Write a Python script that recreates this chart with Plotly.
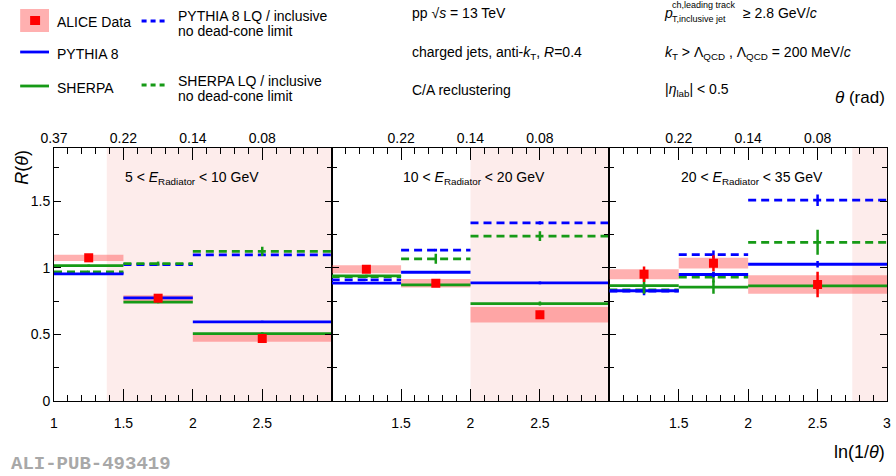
import plotly.graph_objects as go

# ---------------- data ----------------
bin_edges = [1.0, 1.5, 2.0, 3.0]           # ln(1/theta) bins
bin_centers = [1.25, 1.75, 2.5]
panel_titles = ["5 &lt; <i>E</i><sub>Radiator</sub> &lt; 10 GeV",
                "10 &lt; <i>E</i><sub>Radiator</sub> &lt; 20 GeV",
                "20 &lt; <i>E</i><sub>Radiator</sub> &lt; 35 GeV"]

data_val = [[1.075, 0.772, 0.470], [0.990, 0.885, 0.647], [0.952, 1.035, 0.875]]
data_stat = [[0.015, 0.020, 0.025], [0.020, 0.020, 0.030], [0.058, 0.060, 0.095]]
data_sys = [[0.023, 0.022, 0.025], [0.030, 0.032, 0.058], [0.038, 0.040, 0.070]]

pythia = [[0.955, 0.774, 0.594], [0.885, 0.967, 0.887], [0.828, 0.950, 1.027]]
pythia_err = [[0.005, 0.005, 0.008], [0.005, 0.008, 0.010], [0.015, 0.020, 0.025]]
sherpa = [[1.017, 0.742, 0.506], [0.940, 0.872, 0.732], [0.867, 0.855, 0.865]]
sherpa_err = [[0.008, 0.008, 0.010], [0.008, 0.010, 0.015], [0.056, 0.050, 0.030]]
pythia_lq = [[0.960, 1.025, 1.098], [0.910, 1.133, 1.338], [0.825, 1.100, 1.508]]
pythia_lq_err = [[0.005, 0.008, 0.010], [0.008, 0.010, 0.012], [0.030, 0.030, 0.043]]
sherpa_lq = [[0.970, 1.032, 1.123], [0.935, 1.068, 1.238], [0.835, 0.930, 1.192]]
sherpa_lq_err = [[0.010, 0.015, 0.035], [0.012, 0.037, 0.037], [0.030, 0.040, 0.094]]

shade_start = [1.38, 2.0, 2.75]            # shaded (excluded) region start per panel
shade_end = 3.0

x_ticks = [1, 1.5, 2, 2.5, 3]
bottom_labels = [["1", "1.5", "2", "2.5", ""],
                 ["", "1.5", "2", "2.5", ""],
                 ["", "1.5", "2", "2.5", "3"]]
top_labels = [["0.37", "0.22", "0.14", "0.08", ""],
              ["", "0.22", "0.14", "0.08", ""],
              ["", "0.22", "0.14", "0.08", "0.05"]]
y_ticks = [0, 0.5, 1, 1.5]
y_labels = ["0", "0.5", "1", "1.5"]

# ---------------- style ----------------
FONT = "Liberation Sans, Arial, Helvetica, sans-serif"
RED = "#ff0000"
BAND = "rgba(255,80,80,0.45)"
BAND_LEG = "#ffb0b0"
SHADE = "#fdeceb"
BLUE = "#0000ff"
GREEN = "#169a16"
DASH = "8px,5px"
LW = 2.8

W, H = 896, 476
L, R, T, B = 54, 5, 148, 75


def px(x):
    return (x - L) / (W - L - R)


def py(y):
    return (H - B - y) / (H - T - B)


def steps(vals):
    xs, ys = [], []
    for k, v in enumerate(vals):
        xs += [bin_edges[k], bin_edges[k + 1], None]
        ys += [v, v, None]
    return xs, ys


fig = go.Figure()
widths = [bin_edges[k + 1] - bin_edges[k] for k in range(3)]

for i in range(3):
    xa = "x" if i == 0 else f"x{i + 1}"
    ya = "y" if i == 0 else f"y{i + 1}"
    # systematic band
    fig.add_trace(go.Bar(x=bin_centers, y=[2 * s for s in data_sys[i]],
                         base=[v - s for v, s in zip(data_val[i], data_sys[i])],
                         width=widths, marker=dict(color=BAND, line=dict(width=0)),
                         xaxis=xa, yaxis=ya, showlegend=False, hoverinfo="skip"))
    for vals, errs, col, dash in [(pythia_lq[i], pythia_lq_err[i], BLUE, DASH),
                                  (sherpa_lq[i], sherpa_lq_err[i], GREEN, DASH),
                                  (pythia[i], pythia_err[i], BLUE, "solid"),
                                  (sherpa[i], sherpa_err[i], GREEN, "solid")]:
        xs, ys = steps(vals)
        fig.add_trace(go.Scatter(x=xs, y=ys, mode="lines",
                                 line=dict(color=col, width=LW, dash=dash),
                                 xaxis=xa, yaxis=ya, showlegend=False, hoverinfo="skip"))
        fig.add_trace(go.Scatter(x=bin_centers, y=vals, mode="markers",
                                 marker=dict(size=1, color="rgba(0,0,0,0)"),
                                 error_y=dict(type="data", array=errs, color=col,
                                              thickness=2.5, width=0),
                                 xaxis=xa, yaxis=ya, showlegend=False, hoverinfo="skip"))
    # data
    fig.add_trace(go.Scatter(x=bin_centers, y=data_val[i], mode="markers",
                             marker=dict(symbol="square", size=9, color=RED),
                             error_y=dict(type="data", array=data_stat[i], color=RED,
                                          thickness=2.5, width=0),
                             xaxis=xa, yaxis=ya, showlegend=False))
    # dummy for top axis
    fig.add_trace(go.Scatter(x=[bin_edges[0], bin_edges[-1]], y=[0, 0], mode="markers",
                             marker=dict(size=1, color="rgba(0,0,0,0)"),
                             xaxis=f"x{i + 4}", yaxis=ya, showlegend=False, hoverinfo="skip"))
    # shaded region
    fig.add_shape(type="rect", xref=xa, yref=f"{ya} domain", x0=shade_start[i], x1=shade_end,
                  y0=0, y1=1, fillcolor=SHADE, line=dict(width=0), layer="below")
    # panel title
    fig.add_annotation(text=panel_titles[i], xref=xa, yref=ya, x=1.5, y=1.674,
                       xanchor="left", yanchor="middle", showarrow=False,
                       font=dict(size=14, family=FONT, color="black"))

axis_common = dict(showgrid=False, zeroline=False, showline=True, linecolor="black",
                   linewidth=1, mirror="ticks", ticks="inside", tickcolor="black",
                   tickfont=dict(size=14, family=FONT, color="black"))
layout_axes = {}
for i in range(3):
    sx = "" if i == 0 else str(i + 1)
    layout_axes[f"xaxis{sx}"] = dict(axis_common, domain=[i / 3, (i + 1) / 3], range=[1, 3],
                                     anchor=f"y{sx}", tickmode="array", tickvals=x_ticks,
                                     ticktext=bottom_labels[i], ticklen=12,
                                     ticklabelstandoff=9,
                                     minor=dict(tickmode="linear", tick0=1, dtick=0.1,
                                                ticklen=6, ticks="inside", tickcolor="black",
                                                showgrid=False))
    layout_axes[f"yaxis{sx}"] = dict(axis_common, domain=[0, 1], range=[0, 1.9],
                                     anchor=f"x{sx}", tickmode="array", tickvals=y_ticks,
                                     ticktext=y_labels, ticklen=7, showticklabels=(i == 0),
                                     minor=dict(tickmode="linear", tick0=0, dtick=0.25,
                                                ticklen=5, ticks="inside", tickcolor="black",
                                                showgrid=False))
    layout_axes[f"xaxis{i + 4}"] = dict(overlaying=f"x{sx}", side="top", anchor=f"y{sx}",
                                        range=[1, 3], tickmode="array", tickvals=x_ticks,
                                        ticktext=top_labels[i], ticks="", showline=False,
                                        showgrid=False, zeroline=False, ticklabelstandoff=1,
                                        tickfont=dict(size=14, family=FONT, color="black"))

fig.update_layout(width=W, height=H, margin=dict(l=L, r=R, t=T, b=B, pad=0),
                  paper_bgcolor="white", plot_bgcolor="rgba(0,0,0,0)",
                  barmode="overlay", showlegend=False,
                  font=dict(family=FONT, size=14, color="black"), **layout_axes)

# ---------------- legend (manual) ----------------
shp = dict(xref="paper", yref="paper")
fig.add_shape(type="rect", x0=px(20), x1=px(49), y0=py(32), y1=py(9),
              fillcolor=BAND_LEG, line=dict(width=0), **shp)
fig.add_shape(type="rect", x0=px(30), x1=px(40), y0=py(25), y1=py(16),
              fillcolor=RED, line=dict(width=0), **shp)
fig.add_shape(type="line", x0=px(142), x1=px(166), y0=py(21), y1=py(21),
              line=dict(color=BLUE, width=LW, dash="5px,4px"), **shp)
fig.add_shape(type="line", x0=px(20), x1=px(49), y0=py(52), y1=py(52),
              line=dict(color=BLUE, width=LW), **shp)
fig.add_shape(type="line", x0=px(20), x1=px(49), y0=py(86), y1=py(86),
              line=dict(color=GREEN, width=LW), **shp)
fig.add_shape(type="line", x0=px(142), x1=px(166), y0=py(85), y1=py(85),
              line=dict(color=GREEN, width=LW, dash="5px,4px"), **shp)


def txt(text, x, y, size=14, xanchor="left", yanchor="middle", **kw):
    fig.add_annotation(text=text, xref="paper", yref="paper", x=px(x), y=py(y),
                       xanchor=xanchor, yanchor=yanchor, showarrow=False,
                       font=dict(size=size, family=kw.pop("family", FONT),
                                 color=kw.pop("color", "black")), **kw)


txt("ALICE Data", 55, 22)
txt("PYTHIA 8 LQ / inclusive", 177, 16)
txt("no dead-cone limit", 177, 31)
txt("PYTHIA 8", 55, 54)
txt("SHERPA", 55, 88)
txt("SHERPA LQ / inclusive", 177, 81)
txt("no dead-cone limit", 177, 96)

txt("pp √<i>s</i> = 13 TeV", 412, 13)
txt("charged jets, anti-<i>k</i><sub>T</sub>, <i>R</i>=0.4", 412, 53)
txt("C/A reclustering", 412, 90)

txt("<i>p</i>", 665, 13)
txt("ch,leading track", 673, 5, size=9)
txt("T,inclusive jet", 673, 19, size=9)
txt("≥ 2.8 GeV/<i>c</i>", 744, 13)
txt("<i>k</i><sub>T</sub> &gt; Λ<sub>QCD</sub> , Λ<sub>QCD</sub> = 200 MeV/<i>c</i>", 666, 53)
txt("|<i>η</i><sub>lab</sub>| &lt; 0.5", 666, 90)
txt("<i>θ</i> (rad)", 891, 97, size=17, xanchor="right")

txt("<i>R</i>(<i>θ</i>)", 21, 148, size=18, xanchor="center", yanchor="top", textangle=-90)
txt("ln(1/<i>θ</i>)", 891, 452, size=18, xanchor="right")
txt("<b>ALI-PUB-493419</b>", 9, 464, size=19, family="Liberation Mono, Courier New, monospace",
    color="#a8a8a8")

fig.write_html("out.html", config={"displayModeBar": False},
               post_script="document.body.style.margin='0px';")
